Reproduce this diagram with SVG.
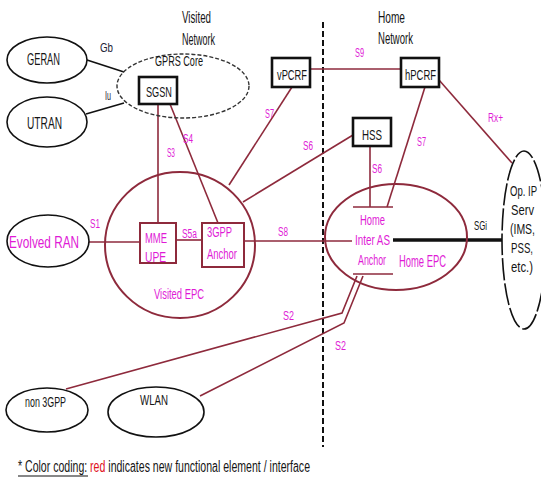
<svg xmlns="http://www.w3.org/2000/svg" width="541" height="479" viewBox="0 0 541 479">
<style>
text{font-family:"Liberation Sans Narrow","Liberation Sans",Arial,sans-serif;}
.k{fill:#151515}
.m{fill:#e01ad6}
.s{font-size:12.5px}
.n{font-size:15px}
.b{font-size:16px}
.el{fill:none;stroke:#111;stroke-width:1.6}
.bx{fill:#fff;stroke:#111;stroke-width:2.6}
.mb{fill:#fff;stroke:#8e2a3c;stroke-width:2}
.ln{fill:none;stroke:#8e2a3c;stroke-width:1.6}
.bl{fill:none;stroke:#111;stroke-width:1.6}
</style>
<rect width="541" height="479" fill="#fff"/>

<g id="labels-top">
<text class="k b" x="182" y="23" textLength="29" lengthAdjust="spacingAndGlyphs">Visited</text>
<text class="k b" x="182" y="45" textLength="33" lengthAdjust="spacingAndGlyphs">Network</text>
<text class="k b" x="378" y="23" textLength="27" lengthAdjust="spacingAndGlyphs">Home</text>
<text class="k b" x="378" y="44" textLength="35" lengthAdjust="spacingAndGlyphs">Network</text>
</g>

<line id="boundary" x1="323" y1="22" x2="323" y2="447" stroke="#111" stroke-width="2" stroke-dasharray="6 3"/>

<g id="connectors">
<line class="bl" x1="87" y1="60" x2="124" y2="72"/>
<line class="bl" x1="86" y1="114" x2="124" y2="103"/>
<line class="ln" x1="158" y1="104" x2="158" y2="223"/>
<line class="ln" x1="170" y1="104" x2="218" y2="223"/>
<line class="ln" x1="292" y1="87" x2="229" y2="185"/>
<line class="ln" x1="353" y1="135" x2="243" y2="202"/>
<line class="ln" x1="310" y1="69" x2="401" y2="69"/>
<line class="ln" x1="425" y1="87" x2="387" y2="207"/>
<line class="ln" x1="370" y1="146" x2="370" y2="207"/>
<line class="ln" x1="439" y1="80" x2="512" y2="163"/>
<line class="ln" x1="89" y1="242" x2="140" y2="242"/>
<line class="ln" x1="176" y1="240" x2="202" y2="240"/>
<line class="ln" x1="244" y1="241" x2="352" y2="241"/>
<line x1="393" y1="240" x2="502" y2="240" stroke="#111" stroke-width="3.5"/>
<polyline class="ln" points="357,276 342,313 66,389"/>
<polyline class="ln" points="363,276 344,323 200,396"/>
<text class="s" x="100" y="52" textLength="13" lengthAdjust="spacingAndGlyphs" fill="#223">Gb</text>
<text class="s" x="105" y="100" textLength="6" lengthAdjust="spacingAndGlyphs" fill="#223">Iu</text>
<text class="m s" x="167" y="157" textLength="8" lengthAdjust="spacingAndGlyphs">S3</text>
<text class="m s" x="183" y="143" textLength="10" lengthAdjust="spacingAndGlyphs">S4</text>
<text class="m s" x="265" y="118" textLength="9" lengthAdjust="spacingAndGlyphs">S7</text>
<text class="m s" x="355" y="57" textLength="9" lengthAdjust="spacingAndGlyphs">S9</text>
<text class="m s" x="488" y="122" textLength="15" lengthAdjust="spacingAndGlyphs">Rx+</text>
<text class="m s" x="303" y="150" textLength="10" lengthAdjust="spacingAndGlyphs">S6</text>
<text class="m s" x="417" y="146" textLength="9" lengthAdjust="spacingAndGlyphs">S7</text>
<text class="m s" x="372" y="173" textLength="10" lengthAdjust="spacingAndGlyphs">S6</text>
<text class="m s" x="90" y="228" textLength="10" lengthAdjust="spacingAndGlyphs">S1</text>
<text class="m s" x="182" y="238" textLength="15" lengthAdjust="spacingAndGlyphs">S5a</text>
<text class="m s" x="278" y="236" textLength="10" lengthAdjust="spacingAndGlyphs">S8</text>
<text class="k s" x="474" y="230" textLength="13" lengthAdjust="spacingAndGlyphs">SGi</text>
<text class="m s" x="283" y="320" textLength="11" lengthAdjust="spacingAndGlyphs">S2</text>
<text class="m s" x="335" y="350" textLength="11" lengthAdjust="spacingAndGlyphs">S2</text>
</g>

<g id="geran"><ellipse class="el" cx="47" cy="60" rx="40" ry="23"/>
<text class="k b" x="27" y="65" textLength="33" lengthAdjust="spacingAndGlyphs">GERAN</text></g>
<g id="utran"><ellipse class="el" cx="47" cy="122" rx="40" ry="25"/>
<text class="k b" x="27" y="129" textLength="35" lengthAdjust="spacingAndGlyphs">UTRAN</text></g>
<g id="gprs-core"><ellipse cx="183" cy="86" rx="66" ry="32" fill="none" stroke="#333" stroke-width="1.4" stroke-dasharray="4 2"/>
<text class="k" font-size="14" x="155" y="66" textLength="48" lengthAdjust="spacingAndGlyphs">GPRS Core</text></g>
<g id="sgsn"><rect class="bx" x="139" y="77" width="38" height="27"/>
<text class="k n" x="146" y="97" textLength="26" lengthAdjust="spacingAndGlyphs">SGSN</text></g>
<g id="vpcrf"><rect class="bx" x="272" y="58" width="38" height="29"/>
<text class="k n" x="277" y="80" textLength="30" lengthAdjust="spacingAndGlyphs">vPCRF</text></g>
<g id="hpcrf"><rect class="bx" x="401" y="58" width="38" height="29"/>
<text class="k n" x="405" y="80" textLength="31" lengthAdjust="spacingAndGlyphs">hPCRF</text></g>
<g id="hss"><rect class="bx" x="353" y="118" width="38" height="28"/>
<text class="k n" x="362" y="140" textLength="20" lengthAdjust="spacingAndGlyphs">HSS</text></g>

<g id="visited-epc"><ellipse cx="180" cy="245" rx="75" ry="73" fill="none" stroke="#8e2a3c" stroke-width="2"/>
<text class="m n" x="154" y="299" textLength="50" lengthAdjust="spacingAndGlyphs">Visited EPC</text></g>
<g id="evolved-ran"><ellipse class="el" cx="48" cy="241" rx="41" ry="26"/>
<text class="m b" x="9" y="248" textLength="70" lengthAdjust="spacingAndGlyphs">Evolved  RAN</text></g>
<g id="mme-upe"><rect class="mb" x="140" y="223" width="36" height="40"/>
<text class="m n" x="145" y="243" textLength="22" lengthAdjust="spacingAndGlyphs">MME</text>
<text class="m n" x="145" y="262" textLength="21" lengthAdjust="spacingAndGlyphs">UPE</text></g>
<g id="anchor-3gpp"><rect class="mb" x="202" y="223" width="42" height="44"/>
<text class="m n" x="207" y="237" textLength="25" lengthAdjust="spacingAndGlyphs">3GPP</text>
<text class="m n" x="207" y="259" textLength="30" lengthAdjust="spacingAndGlyphs">Anchor</text></g>

<g id="home-epc"><ellipse cx="396" cy="237" rx="71" ry="53" fill="none" stroke="#8e2a3c" stroke-width="2"/>
<text class="m b" x="399" y="267" textLength="47" lengthAdjust="spacingAndGlyphs">Home EPC</text></g>
<g id="home-anchor"><line class="ln" x1="353" y1="207" x2="393" y2="207"/><line class="ln" x1="353" y1="274" x2="393" y2="274"/>
<text class="m n" x="360" y="225" textLength="25" lengthAdjust="spacingAndGlyphs">Home</text>
<text class="m n" x="355" y="245" textLength="35" lengthAdjust="spacingAndGlyphs">Inter AS</text>
<text class="m n" x="358" y="265" textLength="28" lengthAdjust="spacingAndGlyphs">Anchor</text></g>

<g id="op-ip-serv"><ellipse cx="524" cy="240" rx="22" ry="89" fill="none" stroke="#111" stroke-width="1.6" stroke-dasharray="22 3"/>
<text class="k n" x="510" y="196" textLength="27" lengthAdjust="spacingAndGlyphs">Op. IP</text>
<text class="k n" x="511" y="215" textLength="23" lengthAdjust="spacingAndGlyphs">Serv</text>
<text class="k n" x="510" y="234" textLength="25" lengthAdjust="spacingAndGlyphs">(IMS,</text>
<text class="k n" x="511" y="253" textLength="22" lengthAdjust="spacingAndGlyphs">PSS,</text>
<text class="k n" x="511" y="272" textLength="22" lengthAdjust="spacingAndGlyphs">etc.)</text></g>

<g id="non-3gpp"><ellipse class="el" cx="47" cy="410" rx="41" ry="22"/>
<text class="k n" x="25" y="407" textLength="41" lengthAdjust="spacingAndGlyphs">non 3GPP</text></g>
<g id="wlan"><ellipse class="el" cx="156" cy="412" rx="48" ry="25"/>
<text class="k n" x="140" y="405" textLength="28" lengthAdjust="spacingAndGlyphs">WLAN</text></g>

<g id="footer">
<text class="k b" x="18" y="472" textLength="292" lengthAdjust="spacingAndGlyphs">* Color coding: <tspan fill="#e0101a">red</tspan> indicates new functional element / interface</text>
<line x1="18" y1="476" x2="88" y2="476" stroke="#111" stroke-width="1.2"/>
</g>
</svg>
